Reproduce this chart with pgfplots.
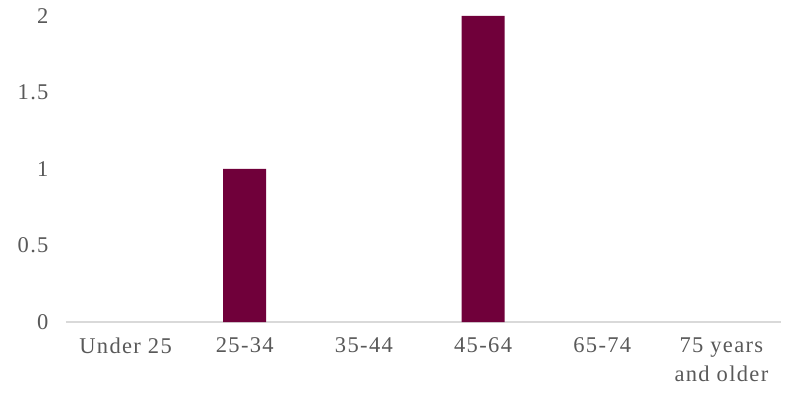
\documentclass[border=0pt]{standalone}
\usepackage{pgfplots}
\pgfplotsset{compat=1.18}
\usepackage{fontspec}
\setmainfont{Liberation Serif}[LetterSpace=6]
\definecolor{barc}{RGB}{112,0,58}
\definecolor{txt}{RGB}{89,89,89}
\definecolor{axl}{RGB}{217,217,217}
\begin{document}
\begin{tikzpicture}
\useasboundingbox (-66bp,-74bp) rectangle (720bp,322bp);
\begin{axis}[at={(0,0)}, anchor=south west, scale only axis, width=715bp, height=306bp,
 xmin=-0.5, xmax=5.5, ymin=0, ymax=2,
 axis x line*=bottom, axis y line*=left,
 y axis line style={draw=none}, x axis line style={draw=axl, line width=1.2bp},
 ytick={0,0.5,1,1.5,2}, ytick style={draw=none},
 yticklabel style={font=\fontsize{22.5bp}{29bp}\selectfont, text=txt, anchor=east, xshift=-14bp},
 xtick={0,...,5}, xticklabels={Under 25,25-34,35-44,45-64,65-74,{75 years\\and older}},
 xtick style={draw=none},
 xticklabel style={font=\fontsize{22.5bp}{29bp}\selectfont, text=txt, align=center, anchor=north, yshift=-8bp},
 extra x ticks={-0.5,0.5,1.5,2.5,3.5,4.5,5.5}, extra x tick labels={},
 extra x tick style={tick style={draw=axl, line width=1.2bp}, major tick length=6bp, tick align=outside},
 ybar, bar width=43bp,
 /pgf/number format/assume math mode=true,
 ]
% categories Under 25, 35-44, 65-74, 75 years and older have value 0
\addplot[fill=barc, draw=none] coordinates {(1,1) (3,2)};
\end{axis}
\end{tikzpicture}
\end{document}
